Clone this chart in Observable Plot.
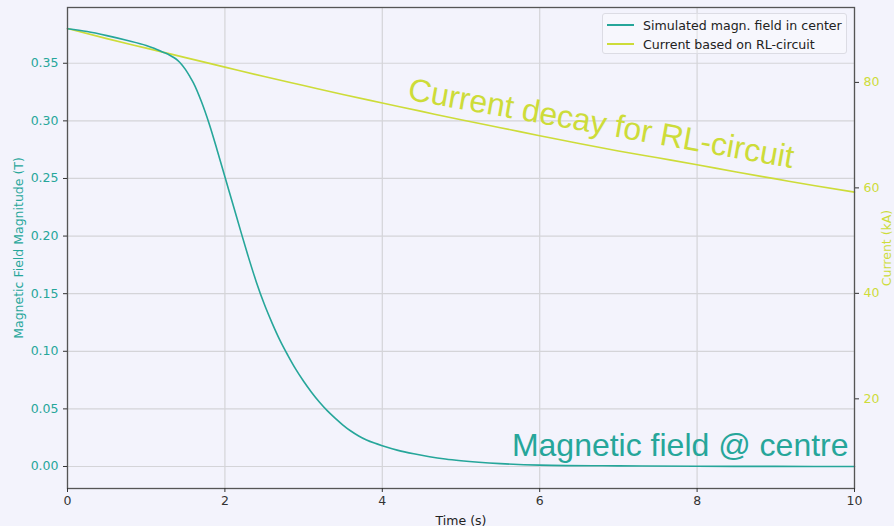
<!DOCTYPE html>
<html>
<head>
<meta charset="utf-8">
<script src="https://cdn.jsdelivr.net/npm/d3@7"></script>
<script src="https://cdn.jsdelivr.net/npm/@observablehq/plot@0.6"></script>
<style>
  html, body { margin: 0; padding: 0; background: #f3f3fc; }
  #wrap { position: relative; width: 894px; height: 526px; overflow: hidden; }
  #wrap svg { display: block; }
  .legend { position: absolute; left: 602px; top: 13px; width: 245px; height: 41px;
    background: rgba(255,255,255,0.35); border: 1px solid #dcdce4; border-radius: 3px;
    font-family: "DejaVu Sans", sans-serif; font-size: 12.6px; color: #222; box-sizing: border-box; }
  .legend .row { position: absolute; left: 0; height: 18px; display: flex; align-items: center; white-space: nowrap; }
  .legend .sw { display: inline-block; width: 27px; height: 0; border-top: 2px solid; margin-left: 4px; margin-right: 9px; }
</style>
</head>
<body>
<div id="wrap"></div>
<script>
// ---- data ----
const fieldTime = [0,0.25,0.5,0.75,1.0,1.1,1.2,1.3,1.35,1.4,1.45,1.5,1.55,1.6,1.7,1.8,1.9,2.0,2.1,2.2,2.3,2.4,2.5,2.6,2.7,2.8,2.9,3.0,3.1,3.2,3.3,3.4,3.5,3.6,3.7,3.8,3.9,4.0,4.2,4.4,4.6,4.8,5.0,5.5,6.0,7.0,8.0,9.0,10.0];
const fieldTesla = [0.380,0.3775,0.3740,0.3700,0.3655,0.3630,0.3600,0.3570,0.3550,0.3525,0.3490,0.3445,0.3390,0.3330,0.3170,0.2975,0.2750,0.2515,0.2280,0.2045,0.1815,0.1600,0.1410,0.1245,0.1095,0.0965,0.0845,0.0740,0.0645,0.0560,0.0485,0.0420,0.0360,0.0308,0.0265,0.0230,0.0203,0.0180,0.0140,0.0110,0.0085,0.0065,0.0050,0.0025,0.0012,0.0005,0.0002,0.0001,0.0000];

const currentTime = [0,0.5,1,1.5,2,2.5,3,3.5,4,4.5,5,5.5,6,6.5,7,7.5,8,8.5,9,9.5,10];
const currentKA = [90.2,88.3,86.5,84.7,82.9,81.1,79.4,77.7,76.1,74.5,72.9,71.4,69.9,68.4,67.0,65.7,64.4,63.0,61.7,60.4,59.2];

const xTicks = [0,2,4,6,8,10];
const leftTicks = [0.00,0.05,0.10,0.15,0.20,0.25,0.30,0.35];
const rightTicks = [20,40,60,80];

const leftDomain = [-0.0191, 0.3984];
const rightDomain = [3.0, 94.2];

const seriesNames = ["Simulated magn. field in center", "Current based on RL-circuit"];
const currentNote = [{text: "Current decay for RL-circuit", t: 4.31, v: 0.3185}];
const fieldNote = [{text: "Magnetic field @ centre", t: 9.924, v: 0.0089}];

const teal = "#26a69a";
const lime = "#cddc39";
const colors = [teal, lime];

// ---- build ----
const toLeft = d3.scaleLinear(rightDomain, leftDomain);
const field = fieldTime.map((t, i) => ({t, v: fieldTesla[i]}));
const current = currentTime.map((t, i) => ({t, v: toLeft(currentKA[i])}));

const chart = Plot.plot({
  width: 894,
  height: 526,
  marginLeft: 67,
  marginRight: 40,
  marginTop: 7,
  marginBottom: 38,
  style: {background: "#f3f3fc", fontFamily: "DejaVu Sans, sans-serif"},
  x: {domain: [0, 10]},
  y: {domain: leftDomain},
  marks: [
    Plot.gridX(xTicks, {stroke: "#d4d4d8", strokeOpacity: 1, strokeWidth: 1.2}),
    Plot.gridY(leftTicks, {stroke: "#d4d4d8", strokeOpacity: 1, strokeWidth: 1.2}),
    Plot.line(current, {x: "t", y: "v", stroke: colors[1], strokeWidth: 1.6, curve: "monotone-x"}),
    Plot.line(field, {x: "t", y: "v", stroke: colors[0], strokeWidth: 1.6, curve: "monotone-x"}),
    Plot.frame({stroke: "#555", strokeWidth: 1.3}),
    Plot.axisX(xTicks, {anchor: "bottom", tickSize: 4, tickPadding: 4, stroke: "#333", fill: "#333", fontSize: 12.5, label: null}),
    Plot.axisY(leftTicks, {anchor: "left", tickSize: 4, tickPadding: 5, stroke: "#333", fill: teal, fontSize: 12.5, tickFormat: d3.format(".2f"), label: null}),
    Plot.axisY(rightTicks.map(toLeft), {anchor: "right", tickSize: 4, tickPadding: 5, stroke: "#333", fill: lime, fontSize: 12.5, tickFormat: d => String(Math.round(toLeft.invert(d))), label: null}),
    Plot.text(["Time (s)"], {frameAnchor: "bottom", dy: 32, fill: "#222", fontSize: 12.5, lineAnchor: "middle", textAnchor: "middle"}),
    Plot.text(["Magnetic Field Magnitude (T)"], {frameAnchor: "left", dx: -49, rotate: -90, fill: teal, fontSize: 12.5, lineAnchor: "middle", textAnchor: "middle"}),
    Plot.text(["Current (kA)"], {frameAnchor: "right", dx: 32, rotate: -90, fill: lime, fontSize: 12.5, lineAnchor: "middle", textAnchor: "middle"}),
    Plot.text(currentNote, {x: "t", y: "v", text: "text", rotate: 10.1, textAnchor: "start", fill: lime,
      lineAnchor: "bottom", fontSize: 32, fontFamily: "Liberation Sans, Arial, sans-serif"}),
    Plot.text(fieldNote, {x: "t", y: "v", text: "text", textAnchor: "end", fill: teal,
      lineAnchor: "bottom", fontSize: 32, fontFamily: "Liberation Sans, Arial, sans-serif"})
  ]
});

const wrap = document.getElementById("wrap");
wrap.appendChild(chart);

const legend = document.createElement("div");
legend.className = "legend";
seriesNames.forEach((name, i) => {
  const row = document.createElement("div");
  row.className = "row";
  row.style.top = (2 + i * 19) + "px";
  const sw = document.createElement("span");
  sw.className = "sw";
  sw.style.borderTopColor = colors[i];
  const lab = document.createElement("span");
  lab.textContent = name;
  row.appendChild(sw);
  row.appendChild(lab);
  legend.appendChild(row);
});
wrap.appendChild(legend);
</script>
</body>
</html>
